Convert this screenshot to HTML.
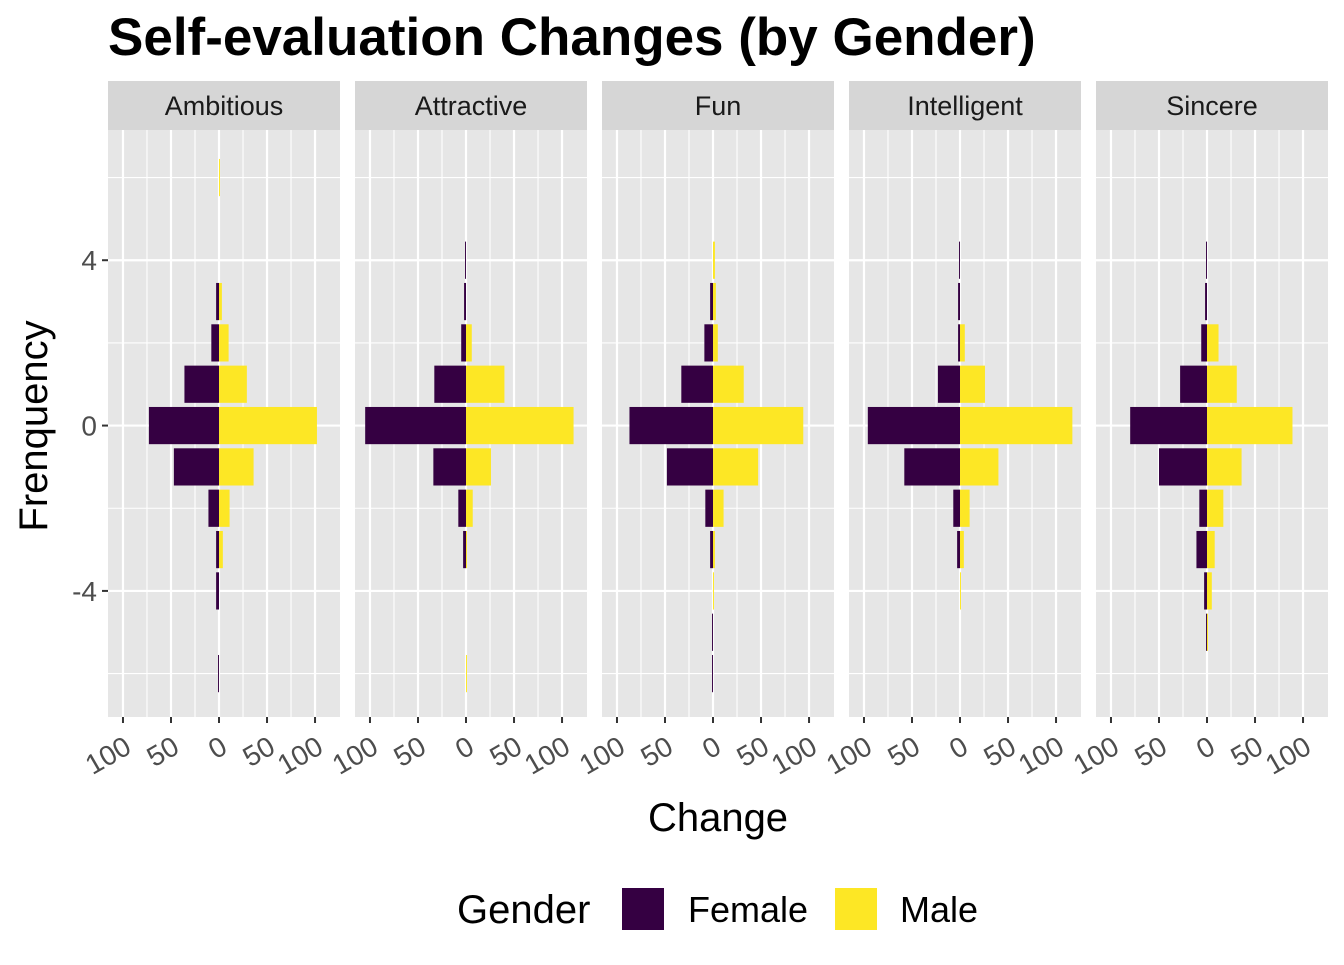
<!DOCTYPE html>
<html><head><meta charset="utf-8"><style>
body{margin:0;background:#fff;}
svg text{font-family:"Liberation Sans",Arial,sans-serif;}
</style></head><body>
<svg id="chart" width="1344" height="960" viewBox="0 0 1344 960" xmlns="http://www.w3.org/2000/svg">
<text x="108" y="55" font-size="53" font-weight="bold" fill="#000">Self-evaluation Changes (by Gender)</text>
<text transform="translate(47,426) rotate(-90)" text-anchor="middle" font-size="40" fill="#000">Frenquency</text>
<text x="718" y="831" text-anchor="middle" font-size="40" fill="#000">Change</text>
<g>
<text x="457" y="923" font-size="40" fill="#000">Gender</text>
<rect x="622" y="888" width="42" height="42" fill="#350042"/>
<text x="688" y="922" font-size="36" fill="#000">Female</text>
<rect x="835" y="888" width="42" height="42" fill="#fde725"/>
<text x="900" y="922" font-size="36" fill="#000">Male</text>
</g>
<g id="panels"></g>
</svg>
<script>
const facets = ["Ambitious","Attractive","Fun","Intelligent","Sincere"];
const levels = [6,5,4,3,2,1,0,-1,-2,-3,-4,-5,-6];
const femaleAmbitious   = [0,0,0,3,8,36,73,47,11,3,3,0,1];
const maleAmbitious     = [1,0,0,3,10,29,102,36,11,4,0,0,0];
const femaleAttractive  = [0,0,1,2,5,33,105,34,8,3,0,0,0];
const maleAttractive    = [0,0,0,0,6,40,112,26,7,1,0,0,1];
const femaleFun         = [0,0,0,3,9,33,87,48,8,3,0,1,1];
const maleFun           = [0,0,2,3,5,32,94,47,11,2,1,0,0];
const femaleIntelligent = [0,0,1,2,2,23,96,58,7,3,0,0,0];
const maleIntelligent   = [0,0,0,0,5,26,117,40,10,4,1,0,0];
const femaleSincere     = [0,0,1,2,6,28,80,50,8,11,3,1,0];
const maleSincere       = [0,0,0,0,12,31,89,36,17,8,5,1,0];
const xTicks = [-100,-50,0,50,100];
const xTickLabels = ["100","50","0","50","100"];
const yTicks = [4,0,-4];
const yTickLabels = ["4","0","-4"];

const femaleSeries=[femaleAmbitious,femaleAttractive,femaleFun,femaleIntelligent,femaleSincere];
const maleSeries=[maleAmbitious,maleAttractive,maleFun,maleIntelligent,maleSincere];
const NS="http://www.w3.org/2000/svg";
const panelsG=document.getElementById('panels');
const panelW=232, panelGap=15, left0=108, plotTop=130, plotBottom=717;
const xMin=-115.6, xMax=126;
const yMin=-7.05, yMax=7.15;
function yS(v){return plotBottom-(v-yMin)/(yMax-yMin)*(plotBottom-plotTop);}
function mk(tag,attrs){const e=document.createElementNS(NS,tag);for(const k in attrs)e.setAttribute(k,attrs[k]);return e;}
yTicks.forEach((t,i)=>{
  const tx=mk('text',{x:97,y:yS(t)+10,'text-anchor':'end','font-size':28,fill:'#4d4d4d'});
  tx.textContent=yTickLabels[i];
  
  
  panelsG.appendChild(tx);
  const tk=mk('line',{x1:102,x2:108,y1:yS(t),y2:yS(t),stroke:'#333','stroke-width':2});
  
  
  panelsG.appendChild(tk);
});
facets.forEach((f,p)=>{
  const L=left0+p*(panelW+panelGap), R=L+panelW;
  const xS=v=>L+(v-xMin)/(xMax-xMin)*panelW;
  const pg=mk('g',{});
  
  
  panelsG.appendChild(pg);
  const strip=mk('rect',{x:L,y:81,width:panelW,height:49,fill:'#d6d6d6'});
  
  
  pg.appendChild(strip);
  const st=mk('text',{x:L+panelW/2,y:115,'text-anchor':'middle','font-size':27,fill:'#1a1a1a'});
  st.textContent=f;
  
  
  pg.appendChild(st);
  const bg=mk('rect',{x:L,y:plotTop,width:panelW,height:plotBottom-plotTop,fill:'#e6e6e6'});
  
  
  pg.appendChild(bg);
  [-6,-2,2,6].forEach(v=>{pg.appendChild(mk('line',{x1:L,x2:R,y1:yS(v),y2:yS(v),stroke:'#fff','stroke-width':1.1}));});
  [-75,-25,25,75].forEach(v=>{pg.appendChild(mk('line',{x1:xS(v),x2:xS(v),y1:plotTop,y2:plotBottom,stroke:'#fff','stroke-width':1.1}));});
  yTicks.forEach(v=>{pg.appendChild(mk('line',{x1:L,x2:R,y1:yS(v),y2:yS(v),stroke:'#fff','stroke-width':2.2}));});
  xTicks.forEach((v,i)=>{
    pg.appendChild(mk('line',{x1:xS(v),x2:xS(v),y1:plotTop,y2:plotBottom,stroke:'#fff','stroke-width':2.2}));
    const tk=mk('line',{x1:xS(v),x2:xS(v),y1:plotBottom,y2:plotBottom+6,stroke:'#333','stroke-width':2});
    
    
    pg.appendChild(tk);
    const ax=xS(v)+10, ay=752;
    const tx=mk('text',{x:ax,y:ay,'text-anchor':'end','font-size':28,fill:'#4d4d4d',transform:`rotate(-30 ${ax} ${ay})`});
    tx.textContent=xTickLabels[i];
    
    
    pg.appendChild(tx);
  });
  levels.forEach((lv,i)=>{
    const h=yS(lv-0.45)-yS(lv+0.45);
    const fv=femaleSeries[p][i], mv=maleSeries[p][i];
    if(fv>0){
      const r=mk('rect',{x:xS(-fv),y:yS(lv+0.45),width:xS(0)-xS(-fv),height:h,fill:'#350042'});
      
      
      pg.appendChild(r);
    }
    if(mv>0){
      const r=mk('rect',{x:xS(0),y:yS(lv+0.45),width:xS(mv)-xS(0),height:h,fill:'#fde725'});
      
      
      pg.appendChild(r);
    }
  });
});
</script>
</body></html>
